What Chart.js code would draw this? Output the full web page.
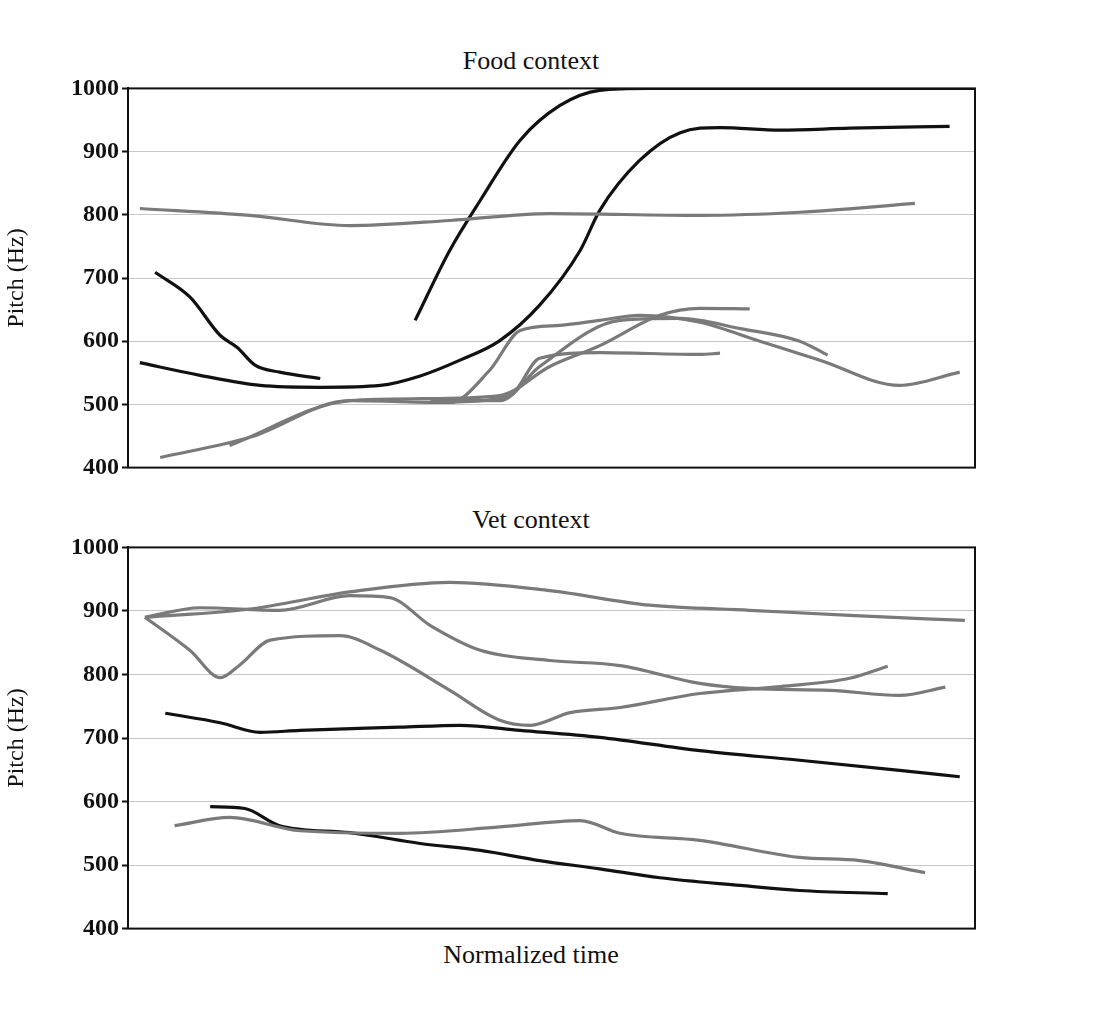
<!DOCTYPE html>
<html><head><meta charset="utf-8">
<script src="https://cdn.jsdelivr.net/npm/chart.js@4"></script>
<style>
body{margin:0;background:#fff;width:1102px;height:1013px;position:relative;font-family:"Liberation Serif",serif;}
.t{position:absolute;font-size:26px;color:#111;text-align:center;width:1102px;}
.c{position:absolute;left:0;width:985px;}
</style></head><body>
<div class="t" style="left:-20px;top:46px;">Food context</div>
<div class="t" style="left:-20px;top:505px;">Vet context</div>
<div class="t" style="left:-20px;top:940px;">Normalized time</div>
<div class="c" style="top:71px;height:414px"><canvas id="a"></canvas></div>
<div class="c" style="top:530px;height:416px"><canvas id="b"></canvas></div>
<script>
const yTicks=[400,500,600,700,800,900,1000];
// Food context (time %, Hz)
const foodBlack1T=[33.9,38,41.6,46.3,51,55.7,61.6,100];
const foodBlack1Y=[633,744,823,918,973,997,1000,1000];
const foodBlack2T=[1.4,8.5,15.6,22.7,29.8,34.5,39.2,43.9,48.6,53.4,55.7,60.4,65.2,69.9,77,85.2,97];
const foodBlack2Y=[566,546,530,527,530,545,570,601,657,744,807,886,930,938,934,937,940];
const foodBlack3T=[3.2,7.3,10.9,12.9,15,17.9,22.7];
const foodBlack3Y=[709,670,609,590,562,551,541];
const foodGray1T=[1.4,14.4,26.2,38,49.8,67.5,79.3,92.9];
const foodGray1Y=[810,799,783,791,802,799,804,818];
const foodGray2T=[3.8,14.4,26.2,38,42.7,46.3,51,55.7,60.4,67.5,74.6,81.7,91.1,98.2];
const foodGray2Y=[416,448,506,503,554,617,625,633,641,630,600,570,530,551];
const foodGray3T=[12,26.2,34.5,43.9,49.8,55.7,62.8,67.5,73.4];
const foodGray3Y=[435,506,509,514,560,593,641,652,651];
const foodGray4T=[35.7,43.9,48.6,58.1,65.2,72.3,79.3,82.6];
const foodGray4Y=[506,506,560,633,636,620,600,578];
const foodGray5T=[36.8,45.1,48.6,55.7,67.5,69.9];
const foodGray5Y=[503,514,573,582,579,581];
// Vet context
const vetGray1T=[2,14.4,26.2,38,49.8,61.6,73.4,85.2,98.8];
const vetGray1Y=[890,903,930,945,932,909,901,893,885];
const vetGray2T=[2,8.5,17.9,26.2,30.9,35.7,41.6,49.8,58.1,67.5,73.4,82.9,91.1,96.5];
const vetGray2Y=[890,905,901,924,921,877,838,822,814,786,778,775,767,780];
const vetGray3T=[2,7.3,10.9,13.2,16.8,25,29.8,38,43.9,47.5,52.2,58.1,67.5,77,85.2,89.7];
const vetGray3Y=[890,838,795,815,854,861,838,775,728,720,740,748,770,781,794,813];
const vetBlack1T=[4.4,10.9,15.6,20.3,32.1,39.2,46.3,55.7,67.5,79.3,91.1,98.2];
const vetBlack1Y=[739,724,709,712,717,720,712,701,680,665,649,639];
const vetBlack2T=[9.7,13.8,17.9,26.2,34.5,41.6,48.6,55.7,62.8,72.3,79.3,89.7];
const vetBlack2Y=[592,589,562,551,534,523,507,494,480,468,460,455];
const vetGray4T=[5.5,12,20.3,32.1,43.9,53.4,58.1,67.5,79.3,86.4,94.1];
const vetGray4Y=[562,575,554,550,560,570,550,539,512,507,488];

const BLACK='#111',GRAY='#7a7a7a';
function ds(t,y,c){return{data:t.map((v,i)=>({x:v,y:y[i]})),borderColor:c,borderWidth:3.2,pointRadius:0,tension:0.4,cubicInterpolationMode:'monotone',fill:false};}
const box={id:'box',afterDraw(ch){const a=ch.chartArea,x=ch.ctx;x.save();x.strokeStyle='#111';x.lineWidth=2;x.strokeRect(a.left,a.top,a.right-a.left,a.bottom-a.top);x.restore();}};
function mk(id,sets){
 new Chart(document.getElementById(id),{type:'line',data:{datasets:sets},plugins:[box],
 options:{responsive:true,maintainAspectRatio:false,animation:false,
  layout:{padding:{top:10,bottom:11,right:10,left:0}},
  plugins:{legend:{display:false},tooltip:{enabled:false}},
  scales:{
   x:{type:'linear',min:0,max:100,ticks:{display:false},grid:{display:false,drawTicks:false},border:{display:false}},
   y:{min:400,max:1000,afterBuildTicks(s){s.ticks=yTicks.map(v=>({value:v}));},
    afterFit(s){s.width=128;},
    ticks:{color:'#111',font:{family:'Liberation Serif',size:24,weight:'bold'},padding:3,callback:v=>String(v)},
    grid:{color:'#c8c8c8',lineWidth:1,tickColor:'#111',tickLength:6,tickWidth:2},
    border:{color:'#111',width:2,dash:[]},
    title:{display:true,text:'Pitch (Hz)',color:'#111',padding:2,font:{family:'Liberation Serif',size:24}}}
  }}});
}
mk('a',[ds(foodGray1T,foodGray1Y,GRAY),ds(foodGray2T,foodGray2Y,GRAY),ds(foodGray3T,foodGray3Y,GRAY),ds(foodGray4T,foodGray4Y,GRAY),ds(foodGray5T,foodGray5Y,GRAY),
 ds(foodBlack1T,foodBlack1Y,BLACK),ds(foodBlack2T,foodBlack2Y,BLACK),ds(foodBlack3T,foodBlack3Y,BLACK)]);
mk('b',[ds(vetGray1T,vetGray1Y,GRAY),ds(vetGray2T,vetGray2Y,GRAY),ds(vetGray3T,vetGray3Y,GRAY),ds(vetGray4T,vetGray4Y,GRAY),
 ds(vetBlack1T,vetBlack1Y,BLACK),ds(vetBlack2T,vetBlack2Y,BLACK)]);
</script></body></html>
